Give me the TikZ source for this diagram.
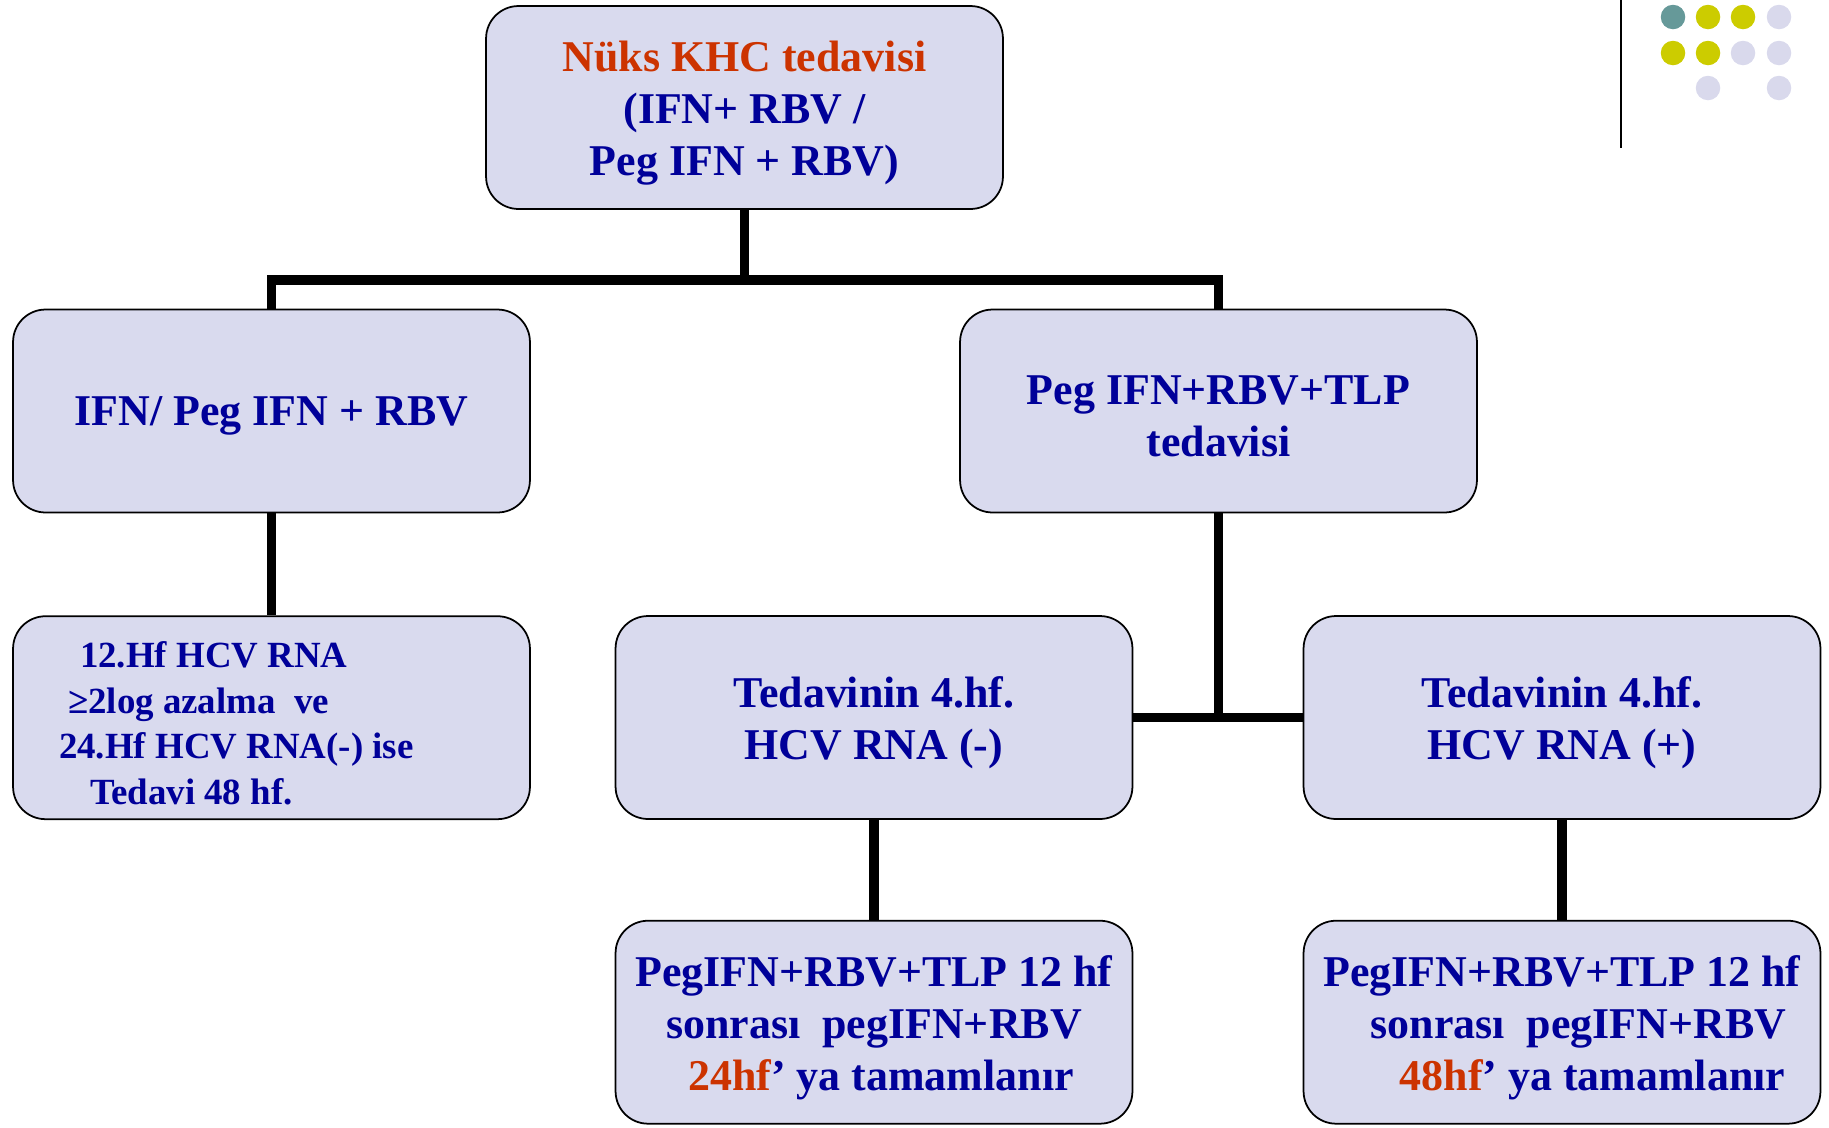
\documentclass[tikz,border=0pt]{standalone}
\usepackage{fontspec}
\setmainfont{Liberation Serif}
\usepackage{tikz}
\usetikzlibrary{positioning}

\definecolor{boxfill}{RGB}{217,218,238}
\definecolor{txtblue}{RGB}{0,0,153}
\definecolor{txtred}{RGB}{204,51,0}
\definecolor{dotteal}{RGB}{102,153,153}
\definecolor{dotyellow}{RGB}{204,204,0}
\definecolor{dotlilac}{RGB}{217,217,236}

\begin{document}
\begin{tikzpicture}
    [x=0.02cm, y=-0.02cm,
    box/.style={draw, line width=1pt, rounded corners=0.65cm, fill=boxfill,
    minimum width=10.34cm, minimum height=4.06cm, inner xsep=0.05cm,
    align=flush center, text width=10.2cm,
    text=txtblue, font=\bfseries\fontsize{25}{29.5}\selectfont,
    execute at end node={\vspace*{-0.22cm}}},
    conn/.style={line width=5.3pt},
    dot/.style={circle, minimum size=0.49cm, inner sep=0pt}]

  \useasboundingbox (0,0) rectangle (1829,1127);

  \node[box] (top) at (744.5,107.5)
    {{\color{txtred}Nüks KHC tedavisi}\\(IFN+ RBV /\\ Peg IFN + RBV)};
  \node[box] (L1) at (271.5,411) {IFN/ Peg IFN + RBV};
  \node[box] (R1) at (1218.5,411) {Peg IFN+RBV+TLP\\tedavisi};

  \node[box, below=2.04cm of L1, align=flush left, text width=9.4cm,
    font=\bfseries\fontsize{21}{26}\selectfont] (L2)
    {\hspace*{0.87cm}12.Hf HCV RNA\\
     \hspace*{0.63cm}≥2log azalma\ \ ve\\
     \hspace*{0.45cm}24.Hf HCV RNA(-) ise\\
     \hspace*{1.07cm}Tedavi 48 hf.};
  \node[box] (M2) at (874,717.5) {Tedavinin 4.hf.\\HCV RNA (-)};
  \node[box] (R2) at (1562,717.5) {Tedavinin 4.hf.\\HCV RNA (+)};

  \node[box, below=2cm of M2] (M3)
    {PegIFN+RBV+TLP 12 hf\\ sonrası\ \ pegIFN+RBV\\
     \hspace*{0.28cm}{\color{txtred}24hf}’ ya tamamlanır};
  \node[box, below=2cm of R2] (R3)
    {PegIFN+RBV+TLP 12 hf\\ \ \ \ sonrası\ \ pegIFN+RBV\\
     \hspace*{1.22cm}{\color{txtred}48hf}’ ya tamamlanır};

  % connectors
  \coordinate (split) at (744.5,280);
  \draw[conn] (top.south) -- (split);
  \draw[conn] (L1.north) |- (split) -| (R1.north);
  \draw[conn] (L1.south) -- (L2.north);
  \draw[conn] (R1.south) -- (R1.south |- M2.east);
  \draw[conn] (M2.east) -- (R2.west);
  \draw[conn] (M2.south) -- (M3.north);
  \draw[conn] (R2.south) -- (R3.north);

  % corner decoration
  \draw[line width=1.1pt] (1621,0) -- (1621,148);
  \foreach \cx/\cy/\cc in {1673/17/dotteal, 1708/17/dotyellow, 1743/17/dotyellow,
      1779/17/dotlilac, 1673/53/dotyellow, 1708/53/dotyellow, 1743/53/dotlilac,
      1779/53/dotlilac, 1708/88/dotlilac, 1779/88/dotlilac}
    \node[dot, fill=\cc] at (\cx,\cy) {};

\end{tikzpicture}
\end{document}
